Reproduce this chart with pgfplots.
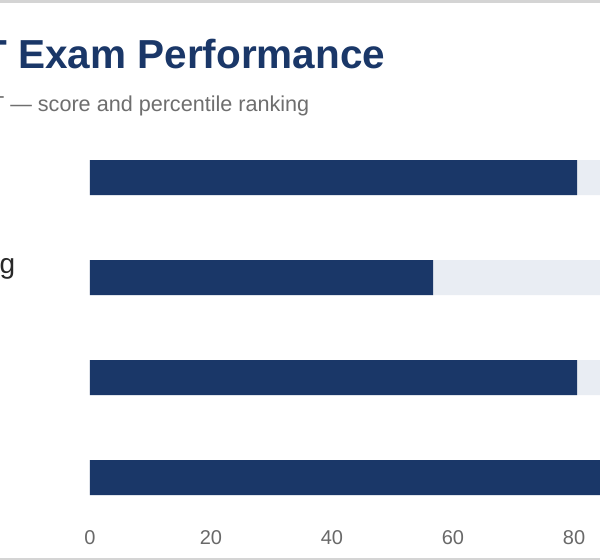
\documentclass[border=0pt]{standalone}
\usepackage{fontspec}
\setmainfont{Liberation Sans}
\usepackage{pgfplots}
\pgfplotsset{compat=1.18}
\definecolor{navy}{RGB}{26,55,104}
\definecolor{track}{RGB}{233,237,243}
\definecolor{subgray}{RGB}{110,110,110}
\definecolor{tickgray}{RGB}{105,105,105}
\definecolor{labelc}{RGB}{40,40,40}
\definecolor{framec}{RGB}{212,212,212}
\begin{document}
\begin{tikzpicture}
\path[use as bounding box] (0,0) rectangle (600bp,-560bp);
\clip (0,0) rectangle (600bp,-560bp);
\fill[white] (0,0) rectangle (600bp,-560bp);
\fill[framec] (0,0) rectangle (600bp,-2.5bp);
\fill[framec] (0,-557.5bp) rectangle (600bp,-560bp);
% title and subtitle, right ends matched to the reference
\node[anchor=base east, inner sep=0pt, text=navy,
      font=\fontsize{40.5bp}{44bp}\selectfont\bfseries] at (385.5bp,-68.3bp) {SAT Exam Performance};
\node[anchor=base east, inner sep=0pt, text=subgray,
      font=\fontsize{21.6bp}{24bp}\selectfont] at (309.5bp,-111.7bp) {SAT — score and percentile ranking};
\begin{axis}[
    at={(90bp,-527.5bp)}, anchor=south west,
    scale only axis,
    width=605bp, height=400bp,
    xmin=0, xmax=100,
    ymin=-0.5, ymax=3.5,
    y dir=reverse,
    enlargelimits=false,
    xbar, bar width=35bp, bar shift=0pt,
    axis line style={draw=none},
    major tick length=0pt,
    xtick={0,20,40,60,80,100},
    ytick={0,1,2,3},
    yticklabels={Total Score, Reading \& Writing, Math, Percentile},
    /pgf/number format/assume math mode=true,
    xticklabel style={font=\fontsize{20bp}{22bp}\selectfont, text=tickgray,
                      anchor=north, inner sep=0pt, yshift=-2.5bp},
    yticklabel style={font=\fontsize{28bp}{30bp}\selectfont, text=labelc,
                      anchor=base west, inner sep=0pt, xshift=-300bp, yshift=4.5bp},
]
% track (full scale)
\addplot[fill=track, draw=none] coordinates {(100,0) (100,1) (100,2) (100,3)};
% score
\addplot[fill=navy, draw=none] coordinates {(80.5,0) (56.7,1) (80.5,2) (92,3)};
\end{axis}
\end{tikzpicture}
\end{document}
